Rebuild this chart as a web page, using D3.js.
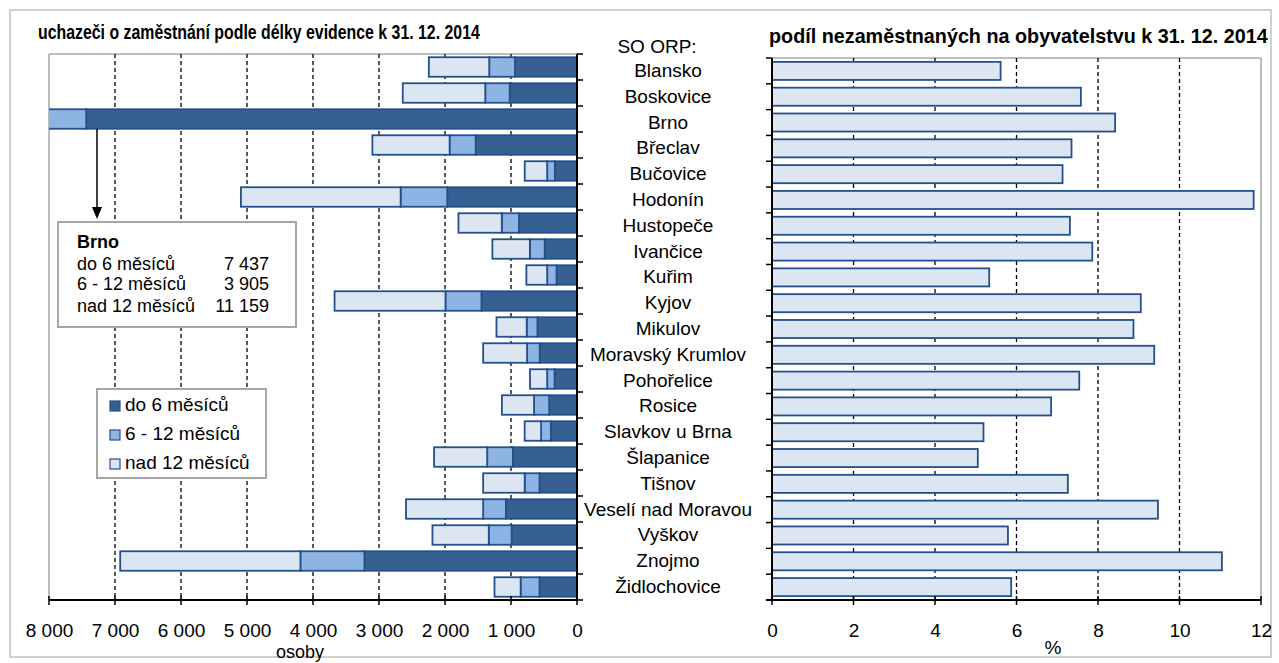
<!DOCTYPE html>
<html><head><meta charset="utf-8">
<script src="https://cdn.jsdelivr.net/npm/d3@7"></script>
<style>
body{margin:0;background:#fff;}
svg text{font-family:"Liberation Sans",Arial,sans-serif;fill:#000;}
svg text.ttl{font-family:"Liberation Sans Narrow","Arial Narrow","Liberation Sans",Arial,sans-serif;}
</style></head>
<body>
<svg id="c" width="1279" height="663"></svg>
<script>
const categories = ["Blansko","Boskovice","Brno","Břeclav","Bučovice","Hodonín","Hustopeče","Ivančice","Kuřim","Kyjov","Mikulov","Moravský Krumlov","Pohořelice","Rosice","Slavkov u Brna","Šlapanice","Tišnov","Veselí nad Moravou","Vyškov","Znojmo","Židlochovice"];
const do6 = [940,1020,7437,1535,335,1966,880,490,310,1448,600,565,340,422,396,971,569,1077,991,3221,569];
const m6to12 = [390,370,3905,395,117,706,260,224,142,545,162,192,112,229,148,390,224,345,346,970,285];
const nad12 = [915,1250,11159,1170,340,2420,656,568,315,1680,458,665,260,487,249,804,629,1169,853,2730,396];
const share = [5.61,7.58,8.42,7.35,7.13,11.82,7.31,7.86,5.33,9.05,8.87,9.38,7.54,6.85,5.19,5.05,7.26,9.47,5.79,11.04,5.87];
const seriesNames = ["do 6 měsíců","6 - 12 měsíců","nad 12 měsíců"];
const leftTicks = [0,1000,2000,3000,4000,5000,6000,7000,8000];
const rightTicks = [0,2,4,6,8,10,12];
const brnoNote = {name:"Brno", rows:[["do 6 měsíců","7 437"],["6 - 12 měsíců","3 905"],["nad 12 měsíců","11 159"]]};

const colors = ["#376092","#8EB4E3","#DCE6F2"];
const edge = "#24508C";
const svg = d3.select("#c");
const fmt = d3.formatLocale({decimal:",",thousands:"\u00a0",grouping:[3],currency:["",""]}).format(",");

svg.append("rect").attr("x",10).attr("y",10).attr("width",1261).attr("height",647)
  .attr("fill","none").attr("stroke","#c0c0c0").attr("stroke-width",1.5);

function title(x, y, w, txt){
  const g = svg.append("g").attr("transform",`translate(${x},${y})`);
  const t = g.append("text").attr("class","ttl").attr("x",0).attr("y",0).attr("dominant-baseline","middle")
    .attr("font-size",20).attr("font-weight","bold").text(txt);
  const nat = t.node().getComputedTextLength();
  t.attr("transform",`scale(${w/nat},1)`);
}

// ---------- LEFT CHART ----------
const L = {x0:49, x1:577, y0:54, y1:600};
const xl = d3.scaleLinear().domain([0,8000]).range([L.x1,L.x0]);
const yl = d3.scaleBand().domain(categories).range([L.y0,L.y1]).paddingInner(0.25).paddingOuter(0.125);
const gL = svg.append("g");
svg.append("defs").append("clipPath").attr("id","clipL").append("rect")
  .attr("x",L.x0).attr("y",L.y0).attr("width",L.x1-L.x0).attr("height",L.y1-L.y0);

gL.append("line").attr("x1",L.x0).attr("x2",L.x1).attr("y1",L.y0).attr("y2",L.y0).attr("stroke","#a6a6a6").attr("stroke-width",1.5);
gL.append("line").attr("x1",L.x0).attr("x2",L.x0).attr("y1",L.y0).attr("y2",L.y1).attr("stroke","#a6a6a6").attr("stroke-width",1.5);
gL.selectAll(".gl").data(leftTicks.filter(d=>d>0&&d<8000)).join("line")
  .attr("x1",d=>xl(d)).attr("x2",d=>xl(d)).attr("y1",L.y0).attr("y2",L.y1)
  .attr("stroke","#000").attr("stroke-width",1.3).attr("stroke-dasharray","4,3");

const stackData = categories.map((c,i)=>({cat:c, a:do6[i], b:m6to12[i], c2:nad12[i]}));
const stack = d3.stack().keys(["a","b","c2"])(stackData);
const bars = gL.append("g").attr("clip-path","url(#clipL)");
stack.forEach((s,k)=>{
  bars.selectAll(".s"+k).data(s).join("rect")
    .attr("x",d=>xl(d[1])).attr("width",d=>xl(d[0])-xl(d[1]))
    .attr("y",d=>yl(d.data.cat)).attr("height",yl.bandwidth())
    .attr("fill",colors[k]).attr("stroke",edge).attr("stroke-width",1.8);
});

const axL = gL.append("g").attr("transform",`translate(0,${L.y1})`)
  .call(d3.axisBottom(xl).tickValues(leftTicks).tickSize(0).tickPadding(0).tickFormat(fmt));
axL.select(".domain").remove();
axL.selectAll("text").attr("font-size",19).attr("dy",null).attr("y",32).attr("dominant-baseline","middle");
gL.append("line").attr("x1",L.x0).attr("x2",L.x1+1).attr("y1",L.y1).attr("y2",L.y1).attr("stroke","#000").attr("stroke-width",2);
gL.selectAll(".tk").data(leftTicks).join("line")
  .attr("x1",d=>xl(d)).attr("x2",d=>xl(d)).attr("y1",L.y1-4).attr("y2",L.y1+5).attr("stroke","#000").attr("stroke-width",1.5);
gL.append("line").attr("x1",L.x1).attr("x2",L.x1).attr("y1",L.y0).attr("y2",L.y1).attr("stroke","#000").attr("stroke-width",2);
const bL = d3.range(categories.length+1).map(i=>L.y0+i*yl.step());
gL.selectAll(".ct").data(bL).join("line")
  .attr("x1",L.x1).attr("x2",L.x1+6).attr("y1",d=>d).attr("y2",d=>d).attr("stroke","#000").attr("stroke-width",1.5);

title(38, 34, 442, "uchazeči o zaměstnání podle délky evidence k 31. 12. 2014");
svg.append("text").attr("x",300).attr("y",653).attr("text-anchor","middle").attr("dominant-baseline","middle")
  .attr("font-size",18).text("osoby");

// annotation
const ax = 97, ay0 = yl("Brno")+yl.bandwidth();
svg.append("line").attr("x1",ax).attr("x2",ax).attr("y1",ay0).attr("y2",210).attr("stroke","#000").attr("stroke-width",1.5);
svg.append("path").attr("d",`M${ax-5},207L${ax+5},207L${ax},219Z`).attr("fill","#000");
svg.append("rect").attr("x",58).attr("y",222).attr("width",238).attr("height",105)
  .attr("fill","#fff").attr("stroke","#a6a6a6").attr("stroke-width",2);
svg.append("text").attr("x",77).attr("y",243).attr("dominant-baseline","middle").attr("font-size",18)
  .attr("font-weight","bold").text(brnoNote.name);
const ry = [265,285,307];
brnoNote.rows.forEach((r,i)=>{
  svg.append("text").attr("x",77).attr("y",ry[i]).attr("dominant-baseline","middle").attr("font-size",18).text(r[0]);
  svg.append("text").attr("x",269).attr("y",ry[i]).attr("dominant-baseline","middle").attr("text-anchor","end").attr("font-size",18).text(r[1]);
});

// legend
svg.append("rect").attr("x",97).attr("y",389).attr("width",169).attr("height",89)
  .attr("fill","#fff").attr("stroke","#a6a6a6").attr("stroke-width",2);
const lgY = [406,435,464];
seriesNames.forEach((n,i)=>{
  svg.append("rect").attr("x",110).attr("y",lgY[i]-5).attr("width",10).attr("height",10)
    .attr("fill",colors[i]).attr("stroke",edge).attr("stroke-width",1.2);
  svg.append("text").attr("x",125).attr("y",lgY[i]).attr("dominant-baseline","middle").attr("font-size",19).text(n);
});

// ---------- RIGHT CHART ----------
const R = {x0:772, x1:1261, y0:58, y1:600};
const xr = d3.scaleLinear().domain([0,12]).range([R.x0,R.x1]);
const yr = d3.scaleBand().domain(categories).range([R.y0,R.y1]).paddingInner(0.3).paddingOuter(0.15);
const gR = svg.append("g");
gR.append("line").attr("x1",R.x0).attr("x2",R.x1).attr("y1",R.y0).attr("y2",R.y0).attr("stroke","#a6a6a6").attr("stroke-width",1.5);
gR.append("line").attr("x1",R.x1).attr("x2",R.x1).attr("y1",R.y0).attr("y2",R.y1).attr("stroke","#a6a6a6").attr("stroke-width",1.5);
gR.selectAll(".gr").data(rightTicks.filter(d=>d>0&&d<12)).join("line")
  .attr("x1",d=>xr(d)).attr("x2",d=>xr(d)).attr("y1",R.y0).attr("y2",R.y1)
  .attr("stroke","#000").attr("stroke-width",1.3).attr("stroke-dasharray","4,3");
gR.selectAll(".rb").data(categories).join("rect")
  .attr("x",xr(0)).attr("width",(d,i)=>xr(share[i])-xr(0))
  .attr("y",d=>yr(d)).attr("height",yr.bandwidth())
  .attr("fill","#DCE6F2").attr("stroke",edge).attr("stroke-width",1.8);
const axR = gR.append("g").attr("transform",`translate(0,${R.y1})`)
  .call(d3.axisBottom(xr).tickValues(rightTicks).tickSize(0).tickPadding(0));
axR.select(".domain").remove();
axR.selectAll("text").attr("font-size",19).attr("dy",null).attr("y",32).attr("dominant-baseline","middle");
gR.append("line").attr("x1",R.x0-6).attr("x2",R.x1).attr("y1",R.y1).attr("y2",R.y1).attr("stroke","#000").attr("stroke-width",2);
gR.selectAll(".tk").data(rightTicks).join("line")
  .attr("x1",d=>xr(d)).attr("x2",d=>xr(d)).attr("y1",R.y1-4).attr("y2",R.y1+5).attr("stroke","#000").attr("stroke-width",1.5);
gR.append("line").attr("x1",R.x0).attr("x2",R.x0).attr("y1",R.y0).attr("y2",R.y1).attr("stroke","#000").attr("stroke-width",2);
const bR = d3.range(categories.length+1).map(i=>R.y0+i*yr.step());
gR.selectAll(".ct").data(bR).join("line")
  .attr("x1",R.x0-6).attr("x2",R.x0).attr("y1",d=>d).attr("y2",d=>d).attr("stroke","#000").attr("stroke-width",1.5);

title(769, 38, 499, "podíl nezaměstnaných na obyvatelstvu k 31. 12. 2014");
svg.append("text").attr("x",1053).attr("y",649).attr("text-anchor","middle").attr("dominant-baseline","middle")
  .attr("font-size",19).text("%");

svg.append("text").attr("x",657).attr("y",48).attr("text-anchor","middle").attr("dominant-baseline","middle")
  .attr("font-size",19).text("SO ORP:");
svg.selectAll(".cl").data(categories).join("text")
  .attr("x",668).attr("y",d=>yr(d)+yr.bandwidth()/2+1).attr("text-anchor","middle").attr("dominant-baseline","middle")
  .attr("font-size",19).text(d=>d);
</script>
</body></html>
